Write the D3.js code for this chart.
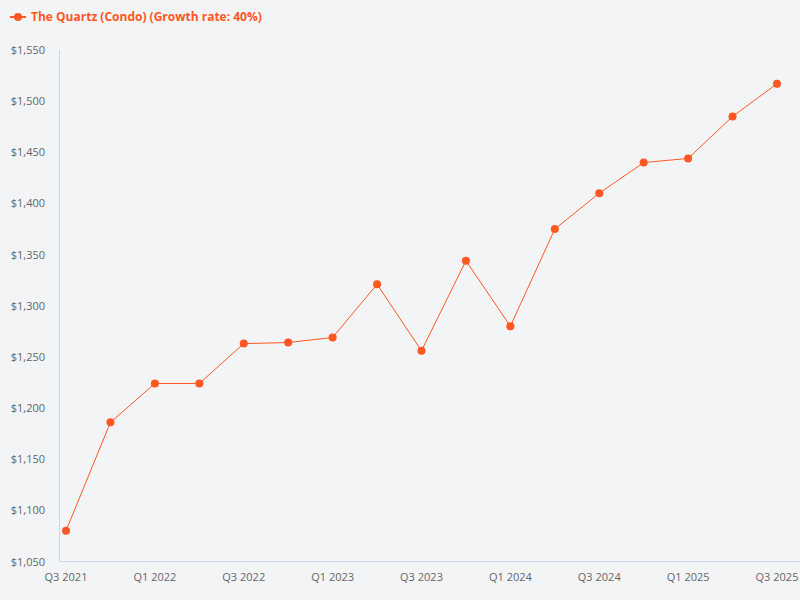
<!DOCTYPE html>
<html><head><meta charset="utf-8">
<script src="https://cdn.jsdelivr.net/npm/d3@7"></script>
<style>
body{margin:0;background:#f3f4f6;font-family:"Open Sans",sans-serif;}
</style></head><body>
<script>
// data
const quarters = ["Q3 2021","Q4 2021","Q1 2022","Q2 2022","Q3 2022","Q4 2022","Q1 2023","Q2 2023","Q3 2023","Q4 2023","Q1 2024","Q2 2024","Q3 2024","Q4 2024","Q1 2025","Q2 2025","Q3 2025"];
const prices = [1080,1186,1224,1224,1263,1264,1269,1321,1256,1344,1280,1375,1410,1440,1444,1485,1517];
const yTicks = [1050,1100,1150,1200,1250,1300,1350,1400,1450,1500,1550];
const seriesName = "The Quartz (Condo) (Growth rate: 40%)";

const color = "#ff5722";
const svg = d3.select("body").append("svg").attr("width",800).attr("height",600)
  .style("background","#f3f4f6");

const x = d3.scalePoint().domain(quarters).range([66,777]);
const y = d3.scaleLinear().domain([1050,1550]).range([561.5,50]);
const fmt = d3.format("$,");

// axes lines
svg.append("line").attr("x1",59.5).attr("x2",59.5).attr("y1",50).attr("y2",561.5)
  .attr("stroke","#ccd6eb");
svg.append("line").attr("x1",59.5).attr("x2",800).attr("y1",561.5).attr("y2",561.5)
  .attr("stroke","#ccd6eb");

svg.selectAll(".ytick").data(yTicks).enter().append("text")
  .attr("x",45).attr("y",d=>y(d)+4).attr("text-anchor","end")
  .attr("font-size",11).attr("fill","#666").text(d=>fmt(d));

svg.selectAll(".xtick").data(quarters.filter((d,i)=>i%2===0)).enter().append("text")
  .attr("x",d=>x(d)).attr("y",581).attr("text-anchor","middle")
  .attr("font-size",11).attr("fill","#666").text(d=>d);

const line = d3.line().x((d,i)=>x(quarters[i])).y(d=>y(d));
svg.append("path").datum(prices).attr("d",line).attr("fill","none")
  .attr("stroke",color).attr("stroke-width",1);

svg.selectAll(".dot").data(prices).enter().append("circle")
  .attr("cx",(d,i)=>x(quarters[i])).attr("cy",d=>y(d)).attr("r",4).attr("fill",color);

// legend
svg.append("line").attr("x1",10).attr("x2",26).attr("y1",17).attr("y2",17)
  .attr("stroke",color).attr("stroke-width",2);
svg.append("circle").attr("cx",18).attr("cy",17).attr("r",4).attr("fill",color);
svg.append("text").attr("x",31).attr("y",21).attr("font-size",12).attr("font-weight","bold")
  .attr("fill",color).text(seriesName);
</script>
</body></html>
